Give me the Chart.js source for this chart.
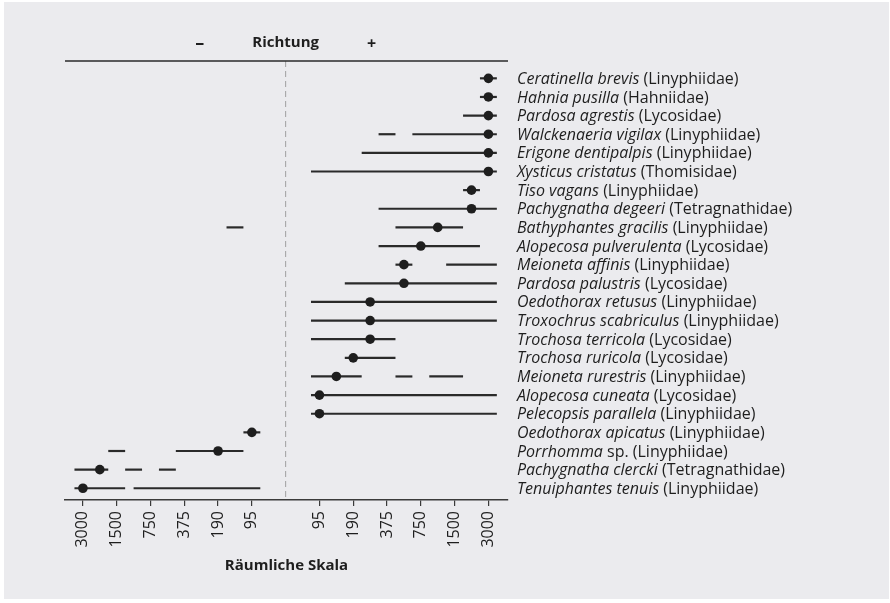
<!DOCTYPE html>
<html>
<head>
<meta charset="utf-8">
<script src="https://cdn.jsdelivr.net/npm/chart.js@4/dist/chart.umd.min.js"></script>
<style>
  html, body { margin: 0; padding: 0; background: #ffffff; }
  #wrap { position: absolute; left: 0; top: 0; width: 890px; height: 603px; }
</style>
</head>
<body>
<div id="wrap"><canvas id="scale-chart" width="890" height="603"></canvas></div>
<script>
// species (italic part) and the rest of the label
const speciesNames = [
	"Ceratinella brevis", "Hahnia pusilla", "Pardosa agrestis", "Walckenaeria vigilax",
	"Erigone dentipalpis", "Xysticus cristatus", "Tiso vagans", "Pachygnatha degeeri",
	"Bathyphantes gracilis", "Alopecosa pulverulenta", "Meioneta affinis", "Pardosa palustris",
	"Oedothorax retusus", "Troxochrus scabriculus", "Trochosa terricola", "Trochosa ruricola",
	"Meioneta rurestris", "Alopecosa cuneata", "Pelecopsis parallela", "Oedothorax apicatus",
	"Porrhomma", "Pachygnatha clercki", "Tenuiphantes tenuis",
];
const familyNames = [
	"(Linyphiidae)", "(Hahniidae)", "(Lycosidae)", "(Linyphiidae)",
	"(Linyphiidae)", "(Thomisidae)", "(Linyphiidae)", "(Tetragnathidae)",
	"(Linyphiidae)", "(Lycosidae)", "(Linyphiidae)", "(Lycosidae)",
	"(Linyphiidae)", "(Linyphiidae)", "(Lycosidae)", "(Lycosidae)",
	"(Linyphiidae)", "(Lycosidae)", "(Linyphiidae)", "(Linyphiidae)",
	"sp. (Linyphiidae)", "(Tetragnathidae)", "(Linyphiidae)",
];
// signed scale step (negative = minus direction)
const bestScale = [6, 6, 6, 6, 6, 6, 5.5, 5.5, 4.5, 4, 3.5, 3.5, 2.5, 2.5, 2.5, 2, 1.5, 1, 1, -1, -2, -5.5, -6];
// interval pieces per species
const intervals = [
	[[5.75, 6.25]],
	[[5.75, 6.25]],
	[[5.25, 6.25]],
	[[2.75, 3.25], [3.75, 6.25]],
	[[2.25, 6.25]],
	[[0.75, 6.25]],
	[[5.25, 5.75]],
	[[2.75, 6.25]],
	[[-1.75, -1.25], [3.25, 5.25]],
	[[2.75, 5.75]],
	[[3.25, 3.75], [4.75, 6.25]],
	[[1.75, 6.25]],
	[[0.75, 6.25]],
	[[0.75, 6.25]],
	[[0.75, 3.25]],
	[[1.75, 3.25]],
	[[0.75, 2.25], [3.25, 3.75], [4.25, 5.25]],
	[[0.75, 6.25]],
	[[0.75, 6.25]],
	[[-1.25, -0.75]],
	[[-5.25, -4.75], [-3.25, -1.25]],
	[[-6.25, -5.25], [-4.75, -4.25], [-3.75, -3.25]],
	[[-6.25, -4.75], [-4.5, -0.75]],
];
const tickValues = [-6, -5, -4, -3, -2, -1, 1, 2, 3, 4, 5, 6];
const tickLabels = ["3000", "1500", "750", "375", "190", "95", "95", "190", "375", "750", "1500", "3000"];

const FONT = "'Open Sans', 'DejaVu Sans', sans-serif";
const INK = "#1e1e1e";

const datasets = [
	{
		data: bestScale.map((v, i) => ({ x: v, y: i })),
		pointRadius: 4.8,
		pointHoverRadius: 4.8,
		pointBackgroundColor: INK,
		pointBorderWidth: 0,
		showLine: false,
		order: 0,
	},
];
intervals.forEach((pieces, i) => {
	pieces.forEach((p) => {
		datasets.push({
			data: [{ x: p[0], y: i }, { x: p[1], y: i }],
			showLine: true,
			borderColor: "#2a2a2a",
			borderWidth: 2.2,
			borderCapStyle: "butt",
			pointRadius: 0,
			order: 1,
		});
	});
});

const decor = {
	id: "decor",
	beforeDraw(chart) {
		const c = chart.ctx;
		c.save();
		c.fillStyle = "#ffffff";
		c.fillRect(0, 0, chart.width, chart.height);
		c.fillStyle = "#ebebee";
		c.fillRect(4, 2, 885, 597);
		c.restore();
	},
	beforeDatasetsDraw(chart) {
		const c = chart.ctx;
		const a = chart.chartArea;
		const x0 = chart.scales.x.getPixelForValue(0);
		c.save();
		// dashed zero line
		c.strokeStyle = "#a0a0a0";
		c.lineWidth = 1;
		c.setLineDash([6, 4]);
		c.beginPath();
		c.moveTo(x0, a.top);
		c.lineTo(x0, a.bottom);
		c.stroke();
		c.setLineDash([]);
		// top rule
		c.strokeStyle = "#2a2a2a";
		c.lineWidth = 1.5;
		c.beginPath();
		c.moveTo(a.left, a.top);
		c.lineTo(a.right, a.top);
		c.stroke();
		// header
		c.fillStyle = INK;
		c.textBaseline = "middle";
		c.textAlign = "center";
		c.font = "bold 15px " + FONT;
		c.fillText("Richtung", x0, 43);
		c.font = "bold 18px " + FONT;
		c.fillText("\u2013", x0 - 86, 44);
		c.font = "bold 16px " + FONT;
		c.fillText("+", x0 + 86, 44);
		c.restore();
	},
	afterDraw(chart) {
		const c = chart.ctx;
		const ys = chart.scales.y;
		const left = chart.chartArea.right + 9;
		c.save();
		c.fillStyle = INK;
		c.textBaseline = "middle";
		c.textAlign = "left";
		speciesNames.forEach((name, i) => {
			const y = ys.getPixelForValue(i) + 1;
			c.font = "italic 16px " + FONT;
			c.fillText(name, left, y);
			const w = c.measureText(name + " ").width;
			c.font = "16px " + FONT;
			c.fillText(familyNames[i], left + w, y);
		});
		c.restore();
	},
};

const ctx = document.getElementById("scale-chart").getContext("2d");
const scaleChart = new Chart(ctx, {
	type: "scatter",
	data: { datasets: datasets },
	plugins: [decor],
	options: {
		responsive: false,
		animation: false,
		devicePixelRatio: 1,
		layout: {
			padding: { left: 65, right: 382, top: 61, bottom: 0 },
		},
		scales: {
			x: {
				type: "linear",
				min: -6.53,
				max: 6.58,
				afterBuildTicks: (scale) => {
					scale.ticks = tickValues.map((v) => ({ value: v }));
				},
				afterFit: (scale) => {
					scale.height = 103;
				},
				ticks: {
					autoSkip: false,
					minRotation: 90,
					maxRotation: 90,
					padding: 5,
					color: INK,
					font: { family: FONT, size: 16 },
					callback: (v, i) => tickLabels[i],
				},
				grid: {
					drawOnChartArea: false,
					drawTicks: true,
					tickLength: 6,
					color: "#3a3a3a",
					lineWidth: 1.2,
				},
				border: { display: true, color: "#3a3a3a", width: 1.5 },
				title: {
					display: true,
					text: "Räumliche Skala",
					color: INK,
					font: { family: FONT, size: 15, weight: "bold" },
					padding: { top: 0, bottom: 28 },
				},
			},
			y: {
				type: "linear",
				display: false,
				reverse: true,
				min: -0.93,
				max: 22.63,
			},
		},
		plugins: {
			legend: { display: false },
			tooltip: { enabled: false },
		},
	},
});
</script>
</body>
</html>
